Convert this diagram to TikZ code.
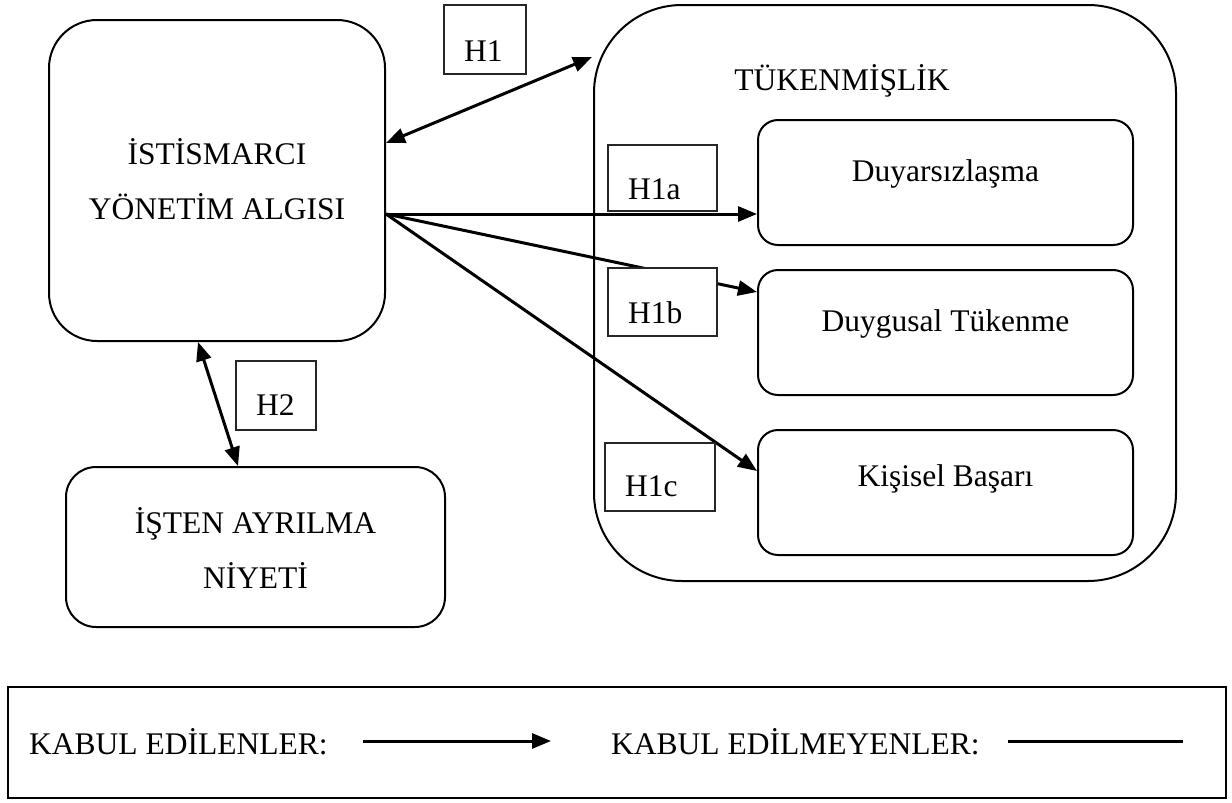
\documentclass[tikz,border=0pt]{standalone}
\usepackage{fontspec}
\setmainfont{Liberation Serif}
\usetikzlibrary{arrows.meta,calc}
\begin{document}
\begin{tikzpicture}[x=1pt,y=-1pt,
  txt/.style={font=\fontsize{31.5}{55}\selectfont, inner sep=0pt},
  box/.style={draw, line width=2pt, inner sep=0pt},
  tag/.style={draw=black!85, line width=1.5pt, fill=white, inner sep=0pt},
  link/.style={line width=3pt, -{Triangle[length=19pt,width=15pt]}},
  twoway/.style={line width=3pt, {Triangle[length=19pt,width=15pt]}-{Triangle[length=19pt,width=15pt]}},
  plain/.style={line width=3pt},
]
\useasboundingbox (0,0) rectangle (1232,803);

% burnout container and its three dimensions
\node[box, rounded corners=88pt, minimum width=582pt, minimum height=576pt] (tuk) at (885,293) {};
\node[txt, anchor=base] (tukT) at (842,90) {TÜKENMİŞLİK};
\node[box, rounded corners=20pt, minimum width=375pt, minimum height=125pt] (duy) at (945.5,182.5) {};
\node[txt, anchor=base] (duyT) at (945.5,181) {Duyarsızlaşma};
\node[box, rounded corners=20pt, minimum width=375pt, minimum height=125pt] (dgs) at (945.5,332.5) {};
\node[txt, anchor=base] (dgsT) at (945.5,331) {Duygusal Tükenme};
\node[box, rounded corners=20pt, minimum width=375pt, minimum height=125pt] (kis) at (945.5,492.5) {};
\node[txt, anchor=base] (kisT) at (945.5,486) {Kişisel Başarı};

% abusive management perception
\node[box, rounded corners=48pt, minimum width=336pt, minimum height=321pt] (ist) at (217,180.5) {};
\node[txt, anchor=base] (istA) at (217,164) {İSTİSMARCI};
\node[txt, anchor=base] (istB) at (217,219) {YÖNETİM ALGISI};

% turnover intention
\node[box, rounded corners=30pt, minimum width=379pt, minimum height=160pt] (isten) at (255.5,547) {};
\node[txt, anchor=base] (istenA) at (255.5,533) {İŞTEN AYRILMA};
\node[txt, anchor=base] (istenB) at (255.5,588) {NİYETİ};

% connectors
\coordinate (src) at ($(ist.east)+(0,33.5)$);
\draw[twoway] ($(ist.east)+(0,-37.5)$) -- ($(tuk.west)+(-1,-236)$);
\draw[link] (src) -- ($(duy.west)+(0,31.5)$);
\draw[link] (src) -- ($(dgs.west)+(0,-40.5)$);
\draw[link] (src) -- ($(kis.west)+(0,-21.5)$);
\draw[twoway] ($(ist.south)+(-19,0)$) -- ($(isten.north)+(-17.5,0)$);

% hypothesis tags
\node[tag, minimum width=82pt, minimum height=69pt] (h1) at (485,39.5) {};
\node[txt, anchor=base west] (h1T) at (464,61) {H1};
\node[tag, minimum width=109pt, minimum height=66pt] (h1a) at (662.5,178) {};
\node[txt, anchor=base west] (h1aT) at (628,199) {H1a};
\node[tag, minimum width=109pt, minimum height=68pt] (h1b) at (662.5,302) {};
\node[txt, anchor=base west] (h1bT) at (628,323) {H1b};
\node[tag, minimum width=110pt, minimum height=68pt] (h1c) at (660,477) {};
\node[txt, anchor=base west] (h1cT) at (625,496) {H1c};
\node[tag, minimum width=80pt, minimum height=69pt] (h2) at (276,395.5) {};
\node[txt, anchor=base west] (h2T) at (256,415) {H2};

% legend
\node[box, minimum width=1218pt, minimum height=111pt] (legend) at (617,742.5) {};
\node[txt, anchor=base west] (acc) at (29,754) {KABUL EDİLENLER:};
\node[txt, anchor=base west] (rej) at (611,754) {KABUL EDİLMEYENLER:};
\coordinate (accA) at (363,741);
\coordinate (accB) at (551,741);
\coordinate (rejA) at (1008,741);
\coordinate (rejB) at (1183,741);
\draw[link] (accA) -- (accB);
\draw[plain] (rejA) -- (rejB);
\end{tikzpicture}
\end{document}
